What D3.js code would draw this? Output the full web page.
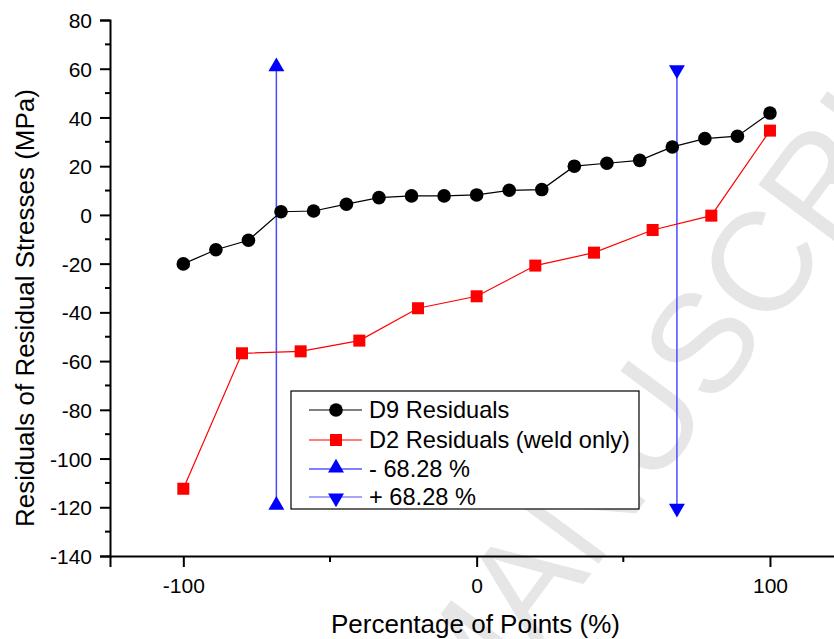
<!DOCTYPE html>
<html><head><meta charset="utf-8">
<script src="https://cdn.jsdelivr.net/npm/d3@7"></script>
<style>body{margin:0;background:#fff}svg{display:block}text{font-family:"Liberation Sans",Arial,sans-serif}</style>
</head><body>
<svg id="c" width="834" height="639"></svg>
<script>
const d9X = [-100,-88.9,-77.8,-66.7,-55.6,-44.4,-33.3,-22.2,-11.1,0,11.1,22.2,33.3,44.4,55.6,66.7,77.8,88.9,100];
const d9Y = [-20.1,-14.3,-10.4,1.3,1.6,4.4,7.1,7.8,7.8,8.2,10.1,10.4,20,21.2,22.4,27.9,31.3,32.3,41.8];
const d2X = [-100,-80,-60,-40,-20,0,20,40,60,80,100];
const d2Y = [-112.4,-56.8,-56,-51.6,-38.3,-33.4,-20.8,-15.5,-6.2,-0.3,34.6];
const lowX = [-68.28,-68.28];
const lowY = [-120,60];
const highX = [68.28,68.28];
const highY = [-120,60];
const xMajor = [-100,0,100];
const xMinor = [-50,50];
const yMajor = [-140,-120,-100,-80,-60,-40,-20,0,20,40,60,80];
const yMinor = [-130,-110,-90,-70,-50,-30,-10,10,30,50,70];
const legendLabels = ["D9 Residuals","D2 Residuals (weld only)","- 68.28 %","+ 68.28 %"];

const svg = d3.select("#c");
const x = d3.scaleLinear().domain([-125,125]).range([110,843.3]);
const y = d3.scaleLinear().domain([-140,80]).range([556,20]);
const fmt = d => d<0 ? "-"+Math.abs(d) : String(d);

// watermark
svg.append("text").attr("transform","translate(466,743) rotate(-53.5)")
  .attr("font-family","'Liberation Serif',serif").attr("font-size",141)
  .attr("fill","#e6e6e6").text("MANUSCRIPT");

// axes
const gx = svg.append("g").attr("transform",`translate(0,${y(-140)})`);
gx.call(d3.axisBottom(x).tickValues(xMajor).tickSize(11).tickFormat(fmt));
gx.selectAll(".tick text").attr("font-size",21).attr("dy",0).attr("y",36.5).attr("fill","#000");
gx.selectAll(null).data(xMinor).enter().append("line")
  .attr("x1",d=>x(d)).attr("x2",d=>x(d)).attr("y1",0).attr("y2",6);
const gy = svg.append("g").attr("transform",`translate(${x(-125)},0)`);
gy.call(d3.axisLeft(y).tickValues(yMajor).tickSize(10).tickFormat(fmt));
gy.selectAll(".tick text").attr("font-size",21).attr("x",-18).attr("dy","0.36em").attr("fill","#000");
gy.selectAll(null).data(yMinor).enter().append("line")
  .attr("y1",d=>y(d)).attr("y2",d=>y(d)).attr("x1",0).attr("x2",-5);
svg.selectAll(".domain").attr("stroke","#000").attr("stroke-width",2);
svg.selectAll("g line").attr("stroke","#000").attr("stroke-width",2);

// titles
svg.append("text").attr("x",475.5).attr("y",633).attr("text-anchor","middle").attr("font-size",26).text("Percentage of Points (%)");
svg.append("text").attr("transform","translate(34,308) rotate(-90)").attr("text-anchor","middle").attr("font-size",26).text("Residuals of Residual Stresses (MPa)");

const line = d3.line().x(d=>x(d[0])).y(d=>y(d[1]));
const tri = d3.symbol().type(d3.symbolTriangle).size(110);

// blue lines
function blue(xs, ys, down){
  const pts = xs.map((v,i)=>[v,ys[i]]);
  svg.append("path").attr("d",line(pts)).attr("fill","none").attr("stroke","#4a4aff").attr("stroke-width",1.5);
  svg.selectAll(null).data(pts).enter().append("path").attr("d",tri)
    .attr("transform",d=>`translate(${x(d[0])},${y(d[1])-(down?-1:2)}) rotate(${down?180:0})`).attr("fill","#0000ff");
}
blue(lowX,lowY,false);
blue(highX,highY,true);

// D2
const d2 = d2X.map((v,i)=>[v,d2Y[i]]);
svg.append("path").attr("d",line(d2)).attr("fill","none").attr("stroke","#ff0000").attr("stroke-width",1.2);
svg.selectAll(null).data(d2).enter().append("rect").attr("x",d=>x(d[0])-6).attr("y",d=>y(d[1])-6).attr("width",12).attr("height",12).attr("fill","#ff0000");

// D9
const d9 = d9X.map((v,i)=>[v,d9Y[i]]);
svg.append("path").attr("d",line(d9)).attr("fill","none").attr("stroke","#000").attr("stroke-width",1.2);
svg.selectAll(null).data(d9).enter().append("circle").attr("cx",d=>x(d[0])).attr("cy",d=>y(d[1])).attr("r",6.8).attr("fill","#000");

// legend
const lg = svg.append("g");
lg.append("rect").attr("x",291).attr("y",391).attr("width",348).attr("height",118).attr("fill","#fff").attr("stroke","#000").attr("stroke-width",1.2);
const rowsY = [410,440,469,497];
const cols = ["#000","#ff0000","#0000ff","#4a4aff"];
legendLabels.forEach((t,i)=>{
  const yy = rowsY[i];
  lg.append("line").attr("x1",309).attr("x2",362).attr("y1",yy).attr("y2",yy).attr("stroke",cols[i]).attr("stroke-width",1.2);
  if(i===0) lg.append("circle").attr("cx",336).attr("cy",yy).attr("r",6.8).attr("fill","#000");
  else if(i===1) lg.append("rect").attr("x",330).attr("y",yy-6).attr("width",12).attr("height",12).attr("fill","#ff0000");
  else lg.append("path").attr("d",tri).attr("transform",`translate(336,${yy+(i===2?-1:1)}) rotate(${i===3?180:0})`).attr("fill","#0000ff");
  lg.append("text").attr("x",369).attr("y",yy).attr("dy","0.36em").attr("font-size",23.6).text(t);
});
</script>
</body></html>
